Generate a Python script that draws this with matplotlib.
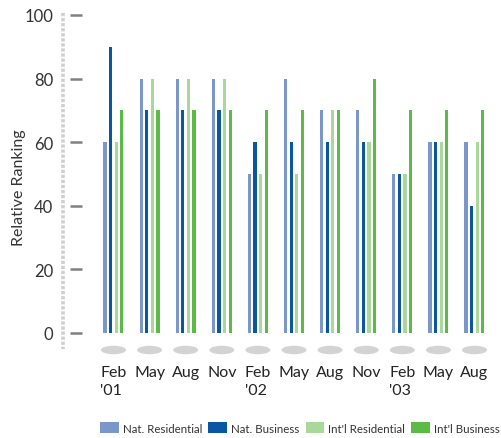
import matplotlib
matplotlib.use("Agg")
import matplotlib.pyplot as plt
import matplotlib.transforms as mtransforms
from matplotlib.patches import Ellipse, Patch
from matplotlib.lines import Line2D

plt.rcParams["font.family"] = ["Lato", "DejaVu Sans"]

months = ["Feb\n'01", "May", "Aug", "Nov", "Feb\n'02", "May", "Aug", "Nov",
          "Feb\n'03", "May", "Aug"]
series = ["Nat. Residential", "Nat. Business", "Int'l Residential", "Int'l Business"]
nat_res = [60, 80, 80, 80, 50, 80, 70, 70, 50, 60, 60]
nat_bus = [90, 70, 70, 70, 60, 60, 60, 60, 50, 60, 40]
intl_res = [60, 80, 80, 80, 50, 50, 70, 60, 50, 60, 60]
intl_bus = [70, 70, 70, 70, 70, 70, 70, 80, 70, 70, 70]
colors = ["#7b96c9", "#0a56a3", "#aad79a", "#5cba47"]

W, H = 502, 439
fig = plt.figure(figsize=(W / 100, H / 100), dpi=100)
ax_l, ax_r, ax_t, ax_b = 82, 497, 16, 334
ax = fig.add_axes([ax_l / W, 1 - ax_b / H, (ax_r - ax_l) / W, (ax_b - ax_t) / H])

step = 36.1   # px between groups
x0 = 113.5    # px of first group centre
ax.set_xlim((ax_l - x0) / step, (ax_r - x0) / step)
ax.set_ylim(0, 100)

bar_w = 3.2 / step
off = 5.6 / step
for k, vals in enumerate([nat_res, nat_bus, intl_res, intl_bus]):
    xs = [i + (k - 1.5) * off for i in range(len(months))]
    ax.bar(xs, vals, width=bar_w, color=colors[k], linewidth=0)

for s in ax.spines.values():
    s.set_visible(False)
ax.set_xticks([])
ax.set_yticks([0, 20, 40, 60, 80, 100])
ax.tick_params(axis="y", length=8.6, width=1.8, color="#808080", pad=12,
               labelsize=12, labelcolor="#333333")
ax.set_ylabel("Relative Ranking", fontsize=11.5, color="#333333")
ax.yaxis.set_label_coords((26 - ax_l) / (ax_r - ax_l), (ax_b - 188) / (ax_b - ax_t))

# dotted rail left of the ticks
fig.add_artist(Line2D([63 / W, 63 / W], [1 - 14 / H, 1 - 350 / H],
                      color="#cfcfcf", lw=2.6, linestyle=(0, (0.9, 0.5))))

trans = mtransforms.blended_transform_factory(ax.transData, ax.transAxes)
h_ax = ax_b - ax_t
for i, lab in enumerate(months):
    ax.add_patch(Ellipse((i, -(351 - ax_b) / h_ax), 25 / step, 8.5 / h_ax,
                         transform=trans, color="#d3d3d3", clip_on=False, lw=0))
    ax.text(i, -(366 - ax_b) / h_ax, lab, transform=trans, ha="center", va="top",
            multialignment="left", fontsize=11.5, color="#222222", linespacing=1.35)

handles = [Patch(facecolor=c, edgecolor="none") for c in colors]
fig.legend(handles, series, loc="center", bbox_to_anchor=(300 / W, 1 - 429 / H),
           ncol=4, frameon=False, fontsize=8.3, handlelength=1.6, handleheight=1.0,
           handletextpad=0.35, columnspacing=0.55, labelcolor="#333333",
           borderpad=0, borderaxespad=0)

fig.savefig("out.png", dpi=100, facecolor="white")
